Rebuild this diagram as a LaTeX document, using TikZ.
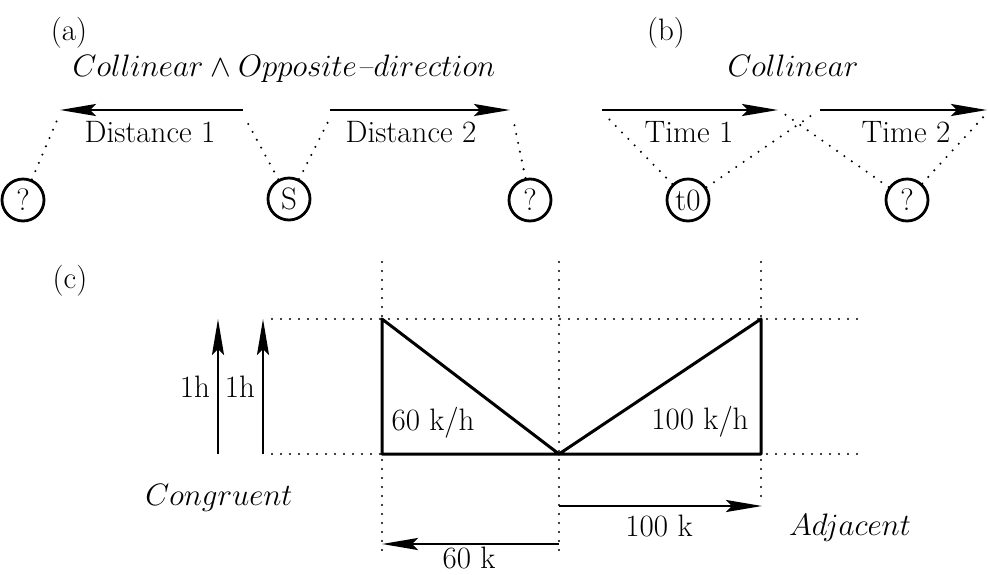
\RequirePackage{fix-cm}
\documentclass[tikz,border=0pt]{standalone}
\usepackage{tikz}
\usepackage{amsmath}
\usetikzlibrary{arrows.meta}

\begin{document}
\begin{tikzpicture}[x=1pt,y=-1pt,
    font=\fontsize{31}{36}\selectfont,
    lbl/.style={anchor=base,inner sep=0pt},
    bigarrow/.style={line width=2.8pt,-{Stealth[length=36pt,width=12pt,inset=6pt]}},
    dots/.style={line width=2.3pt,line cap=round,dash pattern=on 0pt off 9pt},
    thickline/.style={line width=3pt,line join=round},
    circ/.style={circle,draw,line width=2.8pt,minimum size=42pt,inner sep=0pt}]
                \useasboundingbox (0,0) rectangle (988,574);

                % (a) distances
                \node[lbl] (la) at (69,40) {(a)};
                \node[lbl] (ta) at (284,76) {$Collinear \wedge Opposite$\textit{--}$direction$};
                \node[circ] (q1) at (23,200) {?};
                \node[circ] (s) at (289,199) {S};
                \node[circ] (q2) at (530,200) {?};
                \coordinate (d1s) at (243,110);
                \coordinate (d1e) at (60,110);
                \coordinate (d2s) at (330,110);
                \coordinate (d2e) at (510,110);
                \draw[bigarrow] (d1s) -- (d1e);
                \draw[bigarrow] (d2s) -- (d2e);
                \node[lbl] (dist1) at (150,142) {Distance 1};
                \node[lbl] (dist2) at (411,142) {Distance 2};
                \draw[dots] (q1) -- (58,118);
                \draw[dots] (s) -- (245,118);
                \draw[dots] (s) -- (330,118);
                \draw[dots] (q2) -- (513,118);

                % (b) times
                \node[lbl] (lb) at (666,40) {(b)};
                \node[lbl] (tb) at (793,76) {$Collinear$};
                \node[circ] (t0) at (688,200) {t0};
                \node[circ] (q3) at (907,200) {?};
                \coordinate (t1s) at (602,110);
                \coordinate (t1e) at (778,110);
                \coordinate (t2s) at (820,110);
                \coordinate (t2e) at (987,110);
                \draw[bigarrow] (t1s) -- (t1e);
                \draw[bigarrow] (t2s) -- (t2e);
                \node[lbl] (time1) at (689,142) {Time 1};
                \node[lbl] (time2) at (906,142) {Time 2};
                \draw[dots] (t0) -- (605,115);
                \draw[dots] (t0) -- (815,113);
                \draw[dots] (q3) -- (783,113);
                \draw[dots] (q3) -- (987,113);

                % (c) speeds
                \node[lbl] (lc) at (70,288) {(c)};
                \coordinate (tl) at (382,319);
                \coordinate (bl) at (382,454);
                \coordinate (bm) at (559,454);
                \coordinate (tr) at (761,319);
                \coordinate (br) at (761,454);
                \draw[dots] (272,319) -- (860,319);
                \draw[dots] (272,454) -- (860,454);
                \draw[dots] (382,262) -- (382,550);
                \draw[dots] (559,262) -- (559,550);
                \draw[dots] (761,262) -- (761,497);
                \draw[thickline] (tl) -- (bl) -- (bm) -- cycle;
                \draw[thickline] (bm) -- (tr) -- (br) -- cycle;
                \node[lbl] (v1) at (433,430) {60 k/h};
                \node[lbl] (v2) at (700,429) {100 k/h};

                % hours
                \draw[bigarrow] (218,454) -- (218,319);
                \draw[bigarrow] (263,454) -- (263,319);
                \node[lbl] (h1) at (195,397) {1h};
                \node[lbl] (h2) at (240,397) {1h};
                \node[lbl] (cong) at (219,505) {$Congruent$};

                % distances
                \draw[bigarrow] (559,506) -- (762,506);
                \draw[bigarrow] (559,544) -- (382,544);
                \node[lbl] (k100) at (659,536) {100 k};
                \node[lbl] (k60) at (469,568) {60 k};
                \node[lbl] (adj) at (850,535) {$Adjacent$};
            \end{tikzpicture}
\end{document}
